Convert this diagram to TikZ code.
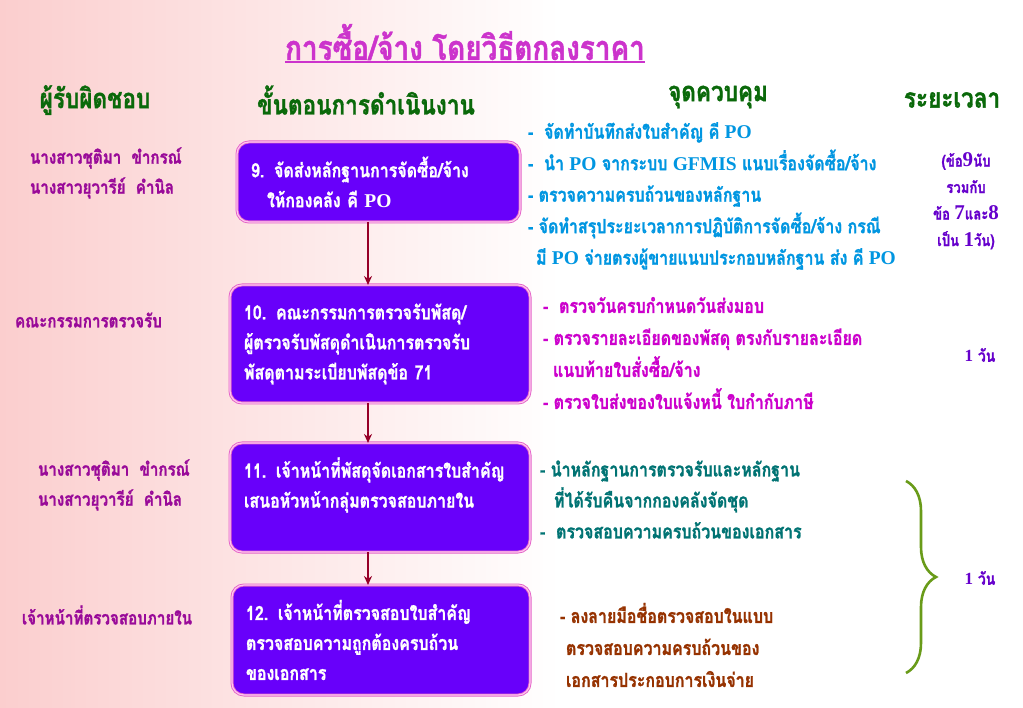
\documentclass[tikz,border=0pt]{standalone}
\usepackage{fontspec}
\setmainfont{Loma}[Script=Thai, FakeStretch=0.82, BoldFeatures={FakeBold=1.2}]
\newfontfamily\latin{Liberation Serif}
\usetikzlibrary{arrows.meta,decorations.pathreplacing}

\definecolor{bgpink}{RGB}{251,206,206}
\definecolor{titlemag}{RGB}{204,51,204}
\definecolor{headgreen}{RGB}{10,105,10}
\definecolor{leftmag}{RGB}{153,10,153}
\definecolor{boxfill}{RGB}{104,0,250}
\definecolor{boxedge}{RGB}{228,100,200}
\definecolor{boxrim}{RGB}{255,200,240}
\definecolor{arrowred}{RGB}{150,0,40}
\definecolor{ctlblue}{RGB}{0,150,225}
\definecolor{ctlmag}{RGB}{204,0,204}
\definecolor{ctlteal}{RGB}{0,115,115}
\definecolor{ctlbrown}{RGB}{150,50,0}
\definecolor{timeviolet}{RGB}{102,0,204}
\definecolor{braceolive}{RGB}{105,155,25}

\begin{document}
\begin{tikzpicture}[x=1pt,y=-1pt,
  every node/.style={font=\bfseries\fontsize{19.5}{31}\selectfont, inner sep=0pt, outer sep=0pt},
  stage/.style={draw=boxedge, double=boxrim, double distance=1.2pt, line width=0.9pt,
    fill=boxfill, rounded corners=12pt, text=white, align=left, inner xsep=14pt,
    font=\bfseries\fontsize{19.5}{30}\selectfont},
  flow/.style={draw=arrowred, line width=1.8pt, -{Stealth[length=9pt,width=8pt]}},
  head/.style={text=headgreen, font=\bfseries\fontsize{27.5}{30}\selectfont},
  who/.style={text=leftmag, anchor=west, align=left, font=\bfseries\fontsize{18.5}{30}\selectfont},
  ctl/.style={anchor=west, align=left}]
\useasboundingbox (0,0) rectangle (1023,708);
\fill[white] (0,0) rectangle (1023,708);
\shade[left color=bgpink, right color=white] (0,0) rectangle (560,708);

% title and column heads
\node[text=titlemag, font=\bfseries\fontsize{34}{36}\selectfont] (title) at (465,42) {การซื้อ/จ้าง โดยวิธีตกลงราคา};
\draw[titlemag, line width=1.4pt] ([yshift=-2pt]title.south west) -- ([yshift=-2pt]title.south east);
\node[head] (hwho) at (95,100) {ผู้รับผิดชอบ};
\node[head] (hstep) at (366,100) {ขั้นตอนการดำเนินงาน};
\node[head] (hctl) at (718,97) {จุดควบคุม};
\node[head] (htime) at (952,100) {ระยะเวลา};

% steps
\node[stage, text width=255pt, minimum height=80pt] (b9) at (378.5,182)
  {9. จัดส่งหลักฐานการจัดซื้อ/จ้าง\\\hspace*{16pt}ให้กองคลัง คี {\latin PO}};
\node[stage, text width=272pt, minimum height=118pt] (b10) at (380,344)
  {10. คณะกรรมการตรวจรับพัสดุ/\\ผู้ตรวจรับพัสดุดำเนินการตรวจรับ\\พัสดุตามระเบียบพัสดุข้อ 71};
\node[stage, text width=272pt, minimum height=109pt] (b11) at (380,497.5)
  {11. เจ้าหน้าที่พัสดุจัดเอกสารใบสำคัญ\\เสนอหัวหน้ากลุ่มตรวจสอบภายใน\\\mbox{}};
\node[stage, text width=270pt, minimum height=110pt] (b12) at (381,640)
  {12. เจ้าหน้าที่ตรวจสอบใบสำคัญ\\ตรวจสอบความถูกต้องครบถ้วน\\ของเอกสาร};

\coordinate (axis) at (368,0);
\draw[flow] (b9.south -| axis) -- (b10.north -| axis);
\draw[flow] (b10.south -| axis) -- (b11.north -| axis);
\draw[flow] (b11.south -| axis) -- (b12.north -| axis);

% who
\node[who] (w9) at (30,173) {นางสาวชุติมา~~ขำกรณ์\\นางสาวยุวารีย์~~คำนิล};
\node[who] (w10) at (15,320) {คณะกรรมการตรวจรับ};
\node[who] (w11) at (38,485) {นางสาวชุติมา~~ขำกรณ์\\นางสาวยุวารีย์~~คำนิล};
\node[who] (w12) at (22,615) {เจ้าหน้าที่ตรวจสอบภายใน};

% control points
\node[ctl, text=ctlblue, font=\bfseries\fontsize{19.5}{31.5}\selectfont] (c9) at (528,196)
  {-~~จัดทำบันทึกส่งใบสำคัญ คี {\latin PO}\\
   -~~นำ {\latin PO} จากระบบ {\latin GFMIS} แนบเรื่องจัดซื้อ/จ้าง\\
   - ตรวจความครบถ้วนของหลักฐาน\\
   - จัดทำสรุประยะเวลาการปฏิบัติการจัดซื้อ/จ้าง กรณี\\
   \hspace*{8pt}มี {\latin PO} จ่ายตรงผู้ขายแนบประกอบหลักฐาน ส่ง คี {\latin PO}};
\node[ctl, text=ctlmag, font=\bfseries\fontsize{19.5}{32}\selectfont] (c10) at (543,353)
  {-~~ตรวจวันครบกำหนดวันส่งมอบ\\
   - ตรวจรายละเอียดของพัสดุ ตรงกับรายละเอียด\\
   \hspace*{10pt}แนบท้ายใบสั่งซื้อ/จ้าง\\
   - ตรวจใบส่งของใบแจ้งหนี้ ใบกำกับภาษี};
\node[ctl, text=ctlteal] (c11) at (540,499.5)
  {- นำหลักฐานการตรวจรับและหลักฐาน\\
   \hspace*{14pt}ที่ได้รับคืนจากกองคลังจัดชุด\\
   -~~ตรวจสอบความครบถ้วนของเอกสาร};
\node[ctl, text=ctlbrown, font=\bfseries\fontsize{19.5}{32}\selectfont] (c12) at (560,645)
  {- ลงลายมือชื่อตรวจสอบในแบบ\\
   \hspace*{6pt}ตรวจสอบความครบถ้วนของ\\
   \hspace*{6pt}เอกสารประกอบการเงินจ่าย};

% time
\node[text=timeviolet, align=center, font=\bfseries\fontsize{16}{26.5}\selectfont] (t9) at (966,201)
  {(ข้อ{\latin\fontsize{21}{21}\selectfont 9}นับ\\รวมกับ\\ข้อ {\latin\fontsize{21}{21}\selectfont 7}และ{\latin\fontsize{21}{21}\selectfont 8}\\เป็น {\latin\fontsize{21}{21}\selectfont 1}วัน)};
\node[text=timeviolet, font=\bfseries\fontsize{17}{18}\selectfont] (t10) at (980,355) {{\latin 1} วัน};
\node[text=timeviolet, font=\bfseries\fontsize{17}{18}\selectfont] (t11) at (980,578) {{\latin 1} วัน};
\coordinate (brtop) at (906,481);
\coordinate (brbot) at (906,673);
\draw[braceolive, line width=2.6pt, decorate, decoration={brace, amplitude=30pt}] (brtop) -- (brbot);
\end{tikzpicture}
\end{document}
